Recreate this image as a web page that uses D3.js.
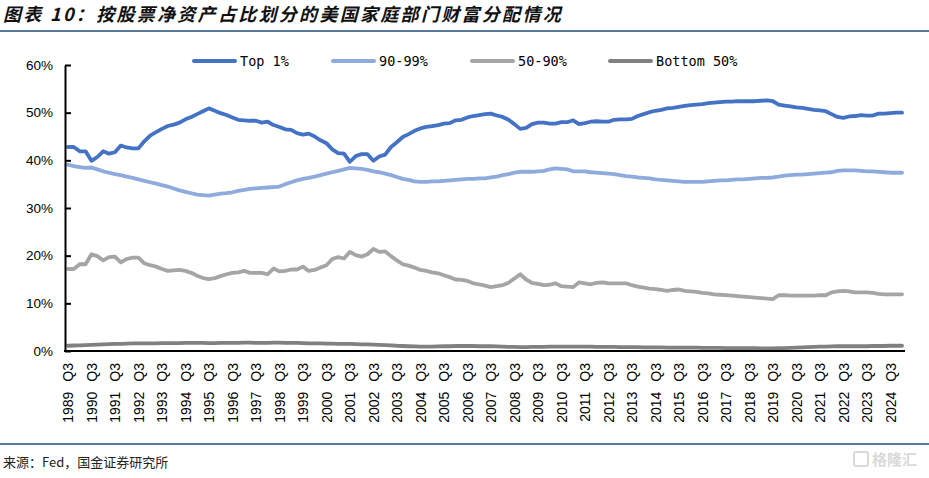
<!DOCTYPE html>
<html>
<head>
<meta charset="utf-8">
<script src="https://cdn.jsdelivr.net/npm/d3@7"></script>
<style>
  html, body { margin: 0; padding: 0; background: #fff; }
  svg { display: block; }
</style>
</head>
<body>
<svg id="chart" width="929" height="478"></svg>
<script>
// ---------- data (quarterly, 1989 Q3 .. 2025 Q1), % of net worth ----------
const seriesNames = ["Top 1%", "90-99%", "50-90%", "Bottom 50%"];
const seriesColors = ["#4472C4", "#8FAADC", "#A5A5A5", "#808080"];

const top1 = [
  42.8,42.8,41.9,41.9,39.9,40.7,41.9,41.4,41.7,43.1,
  42.7,42.5,42.5,44.0,45.2,45.9,46.6,47.2,47.5,47.9,
  48.6,49.1,49.7,50.3,50.9,50.4,49.9,49.5,49.0,48.5,
  48.4,48.3,48.3,47.9,48.1,47.4,47.0,46.5,46.4,45.7,
  45.4,45.6,45.0,44.2,43.6,42.3,41.5,41.4,39.7,40.9,
  41.3,41.3,39.9,40.8,41.2,42.8,43.8,44.9,45.5,46.2,
  46.7,47.0,47.2,47.4,47.7,47.8,48.4,48.5,49.0,49.3,
  49.5,49.7,49.8,49.4,49.1,48.5,47.6,46.6,46.8,47.6,
  47.9,47.9,47.7,47.7,48.0,48.0,48.4,47.6,47.8,48.1,
  48.2,48.1,48.1,48.5,48.6,48.6,48.7,49.3,49.7,50.1,
  50.4,50.6,50.9,51.0,51.2,51.4,51.6,51.7,51.8,52.0,
  52.1,52.2,52.3,52.3,52.4,52.4,52.4,52.4,52.5,52.6,
  52.4,51.7,51.5,51.3,51.1,51.0,50.8,50.6,50.5,50.3,
  49.7,49.1,48.9,49.2,49.3,49.5,49.4,49.4,49.8,49.8,
  49.9,50.0,50.0
];

const p90to99 = [
  39.1,38.8,38.6,38.4,38.5,38.1,37.7,37.4,37.1,36.9,
  36.6,36.3,36.0,35.7,35.4,35.1,34.8,34.5,34.1,33.7,
  33.4,33.1,32.8,32.7,32.6,32.8,33.0,33.1,33.3,33.6,
  33.8,34.0,34.1,34.2,34.3,34.4,34.5,35.0,35.4,35.8,
  36.1,36.3,36.6,36.9,37.2,37.5,37.8,38.1,38.4,38.3,
  38.2,38.0,37.7,37.5,37.2,36.9,36.5,36.1,35.9,35.6,
  35.5,35.5,35.6,35.6,35.7,35.8,35.9,36.0,36.1,36.1,
  36.2,36.2,36.4,36.6,36.9,37.1,37.4,37.6,37.6,37.6,
  37.7,37.8,38.1,38.3,38.2,38.1,37.7,37.7,37.7,37.5,
  37.4,37.3,37.2,37.1,36.9,36.7,36.6,36.4,36.3,36.2,
  36.0,35.9,35.8,35.7,35.6,35.5,35.5,35.5,35.5,35.6,
  35.7,35.8,35.8,35.9,36.0,36.0,36.1,36.2,36.3,36.3,
  36.4,36.6,36.8,36.9,37.0,37.0,37.1,37.2,37.3,37.4,
  37.5,37.8,37.9,37.9,37.9,37.8,37.7,37.7,37.6,37.5,
  37.4,37.4,37.4
];

const p50to90 = [
  17.2,17.2,18.2,18.2,20.3,19.9,19.0,19.7,19.8,18.6,
  19.3,19.6,19.6,18.4,18.0,17.7,17.2,16.8,16.9,17.0,
  16.8,16.4,15.8,15.3,15.1,15.3,15.7,16.1,16.4,16.5,
  16.8,16.4,16.4,16.4,16.1,17.3,16.7,16.8,17.1,17.1,
  17.7,16.8,17.0,17.5,18.0,19.3,19.7,19.4,20.8,20.1,
  19.8,20.3,21.4,20.8,20.9,19.9,19.0,18.2,17.9,17.5,
  17.0,16.8,16.5,16.3,15.9,15.5,15.0,14.9,14.7,14.2,
  14.0,13.7,13.4,13.6,13.8,14.3,15.2,16.1,15.0,14.3,
  14.1,13.8,13.9,14.2,13.6,13.5,13.4,14.4,14.2,14.0,
  14.3,14.4,14.2,14.2,14.2,14.2,13.8,13.5,13.3,13.1,
  13.0,12.8,12.6,12.8,12.9,12.6,12.5,12.4,12.2,12.1,
  11.9,11.8,11.7,11.6,11.5,11.4,11.3,11.2,11.1,11.0,
  10.9,11.7,11.7,11.6,11.6,11.6,11.6,11.6,11.7,11.7,
  12.3,12.5,12.6,12.5,12.3,12.3,12.3,12.2,12.0,11.9,
  11.9,11.9,11.9
];

const bottom50 = [
  1.10,1.15,1.20,1.25,1.30,1.35,1.40,1.45,1.50,1.50,
  1.55,1.60,1.60,1.60,1.60,1.60,1.65,1.65,1.65,1.65,
  1.70,1.70,1.70,1.70,1.65,1.65,1.70,1.70,1.70,1.70,
  1.75,1.75,1.70,1.70,1.70,1.75,1.75,1.70,1.70,1.70,
  1.65,1.60,1.60,1.60,1.55,1.55,1.50,1.50,1.50,1.45,
  1.40,1.40,1.35,1.30,1.25,1.20,1.10,1.05,1.00,0.95,
  0.90,0.90,0.90,0.95,1.00,1.00,1.05,1.05,1.05,1.05,
  1.00,1.00,1.00,0.95,0.90,0.85,0.85,0.80,0.80,0.85,
  0.85,0.85,0.90,0.90,0.90,0.90,0.90,0.90,0.90,0.90,
  0.85,0.85,0.85,0.85,0.80,0.80,0.80,0.80,0.75,0.75,
  0.75,0.75,0.70,0.70,0.70,0.70,0.70,0.70,0.65,0.65,
  0.65,0.65,0.60,0.60,0.60,0.60,0.60,0.60,0.55,0.55,
  0.55,0.60,0.60,0.65,0.70,0.75,0.80,0.85,0.90,0.90,
  0.95,1.00,1.00,1.00,1.00,1.00,1.00,1.05,1.05,1.05,
  1.10,1.10,1.10
];

const tickLabels = [
  "1989 Q3","1990 Q3","1991 Q3","1992 Q3","1993 Q3","1994 Q3","1995 Q3","1996 Q3","1997 Q3",
  "1998 Q3","1999 Q3","2000 Q3","2001 Q3","2002 Q3","2003 Q3","2004 Q3","2005 Q3","2006 Q3",
  "2007 Q3","2008 Q3","2009 Q3","2010 Q3","2011 Q3","2012 Q3","2013 Q3","2014 Q3","2015 Q3",
  "2016 Q3","2017 Q3","2018 Q3","2019 Q3","2020 Q3","2021 Q3","2022 Q3","2023 Q3","2024 Q3"
];
const yTicks = [0, 10, 20, 30, 40, 50, 60];

const titleText = "图表 10：按股票净资产占比划分的美国家庭部门财富分配情况";
const sourceText = "来源：Fed，国金证券研究所";

// categories: quarter names starting 1989 Q3
const categories = [];
for (let i = 0; i < top1.length; i++) {
  const y = 1989 + Math.floor((2 + i) / 4);
  const q = ((2 + i) % 4) + 1;
  categories.push(y + " Q" + q);
}
const allSeries = [top1, p90to99, p50to90, bottom50];

// ---------- drawing ----------
const svg = d3.select("#chart");
const W = 929, H = 478;
const plot = { left: 65, right: 905, top: 65, bottom: 351 };

svg.append("rect").attr("width", W).attr("height", H).attr("fill", "#fff");

// title
svg.append("text")
  .attr("x", 3).attr("y", 21)
  .attr("font-family", "'Noto Sans CJK SC', sans-serif")
  .attr("font-size", 18).attr("font-weight", 700).attr("font-style", "italic")
  .attr("letter-spacing", 2.3)
  .attr("fill", "#111")
  .text(titleText);
svg.append("line").attr("x1", 0).attr("x2", W).attr("y1", 31).attr("y2", 31)
  .attr("stroke", "#1F4E79").attr("stroke-width", 1.5);

// footer
svg.append("line").attr("x1", 0).attr("x2", W).attr("y1", 444).attr("y2", 444)
  .attr("stroke", "#1F4E79").attr("stroke-width", 1.5);
svg.append("text")
  .attr("x", 3).attr("y", 467)
  .attr("font-family", "'Noto Sans CJK SC', sans-serif")
  .attr("font-size", 13).attr("fill", "#222")
  .text(sourceText);

// watermark
const wm = svg.append("g").attr("opacity", 0.55);
wm.append("rect").attr("x", 854).attr("y", 452).attr("width", 14).attr("height", 14)
  .attr("rx", 2).attr("fill", "none").attr("stroke", "#bbb").attr("stroke-width", 2);
wm.append("text").attr("x", 872).attr("y", 465)
  .attr("font-family", "'Noto Sans CJK SC', sans-serif")
  .attr("font-size", 15).attr("font-weight", 700).attr("fill", "#bbb")
  .text("格隆汇");

// scales
const x = d3.scalePoint().domain(categories).range([plot.left, plot.right]).padding(0.5);
const y = d3.scaleLinear().domain([0, 60]).range([plot.bottom, plot.top]);

// lines
const line = d3.line()
  .x((d, i) => x(categories[i]))
  .y(d => y(d));

const gLines = svg.append("g");
allSeries.forEach((s, k) => {
  gLines.append("path")
    .datum(s)
    .attr("d", line)
    .attr("fill", "none")
    .attr("stroke", seriesColors[k])
    .attr("stroke-width", 3.8)
    .attr("stroke-linejoin", "round")
    .attr("stroke-linecap", "round");
});

// y axis
const yAxis = d3.axisLeft(y)
  .tickValues(yTicks)
  .tickFormat(d => d + "%")
  .tickSizeInner(-6)
  .tickSizeOuter(0)
  .tickPadding(12);
const gy = svg.append("g").attr("transform", `translate(${plot.left},0)`).call(yAxis);
gy.select(".domain").attr("stroke", "#000").attr("stroke-width", 2);
gy.selectAll(".tick line").attr("stroke", "#000").attr("stroke-width", 2);
gy.selectAll(".tick text")
  .attr("font-family", "'Liberation Sans', Arial, sans-serif")
  .attr("font-size", 13.5).attr("fill", "#000");

// x axis
const tickCats = tickLabels.map(t => t);
const xAxis = d3.axisBottom(x)
  .tickValues(tickCats)
  .tickSize(0)
  .tickFormat(d => d);
const gx = svg.append("g").attr("transform", `translate(0,${plot.bottom})`).call(xAxis);
gx.select(".domain").attr("stroke", "#000").attr("stroke-width", 2.2)
  .attr("d", `M${plot.left - 1},0H${plot.right}`);
gx.selectAll(".tick text")
  .attr("font-family", "'Liberation Sans', Arial, sans-serif")
  .attr("font-size", 14).attr("fill", "#000")
  .attr("transform", "rotate(-90)")
  .attr("text-anchor", "end")
  .attr("x", -12).attr("y", 0).attr("dy", "0.36em")
  .each(function(d) {
    const parts = d.split(" ");
    const t = d3.select(this);
    t.text(null);
    t.append("tspan").text(parts[0]);
    t.append("tspan").attr("dx", 10).text(parts[1]);
  });

// legend
const legendItems = [
  { x: 194, name: seriesNames[0], color: seriesColors[0] },
  { x: 333, name: seriesNames[1], color: seriesColors[1] },
  { x: 472, name: seriesNames[2], color: seriesColors[2] },
  { x: 610, name: seriesNames[3], color: seriesColors[3] }
];
const gLeg = svg.append("g");
legendItems.forEach(it => {
  gLeg.append("line")
    .attr("x1", it.x).attr("x2", it.x + 41)
    .attr("y1", 61).attr("y2", 61)
    .attr("stroke", it.color).attr("stroke-width", 4).attr("stroke-linecap", "round");
  gLeg.append("text")
    .attr("x", it.x + 46).attr("y", 61).attr("dy", "0.36em")
    .attr("font-family", "'DejaVu Sans Mono', monospace")
    .attr("font-size", 13.5).attr("fill", "#000")
    .attr("xml:space", "preserve")
    .style("white-space", "pre")
    .text(it.name.replace("Top 1%", "Top 1%"));
});
</script>
</body>
</html>
